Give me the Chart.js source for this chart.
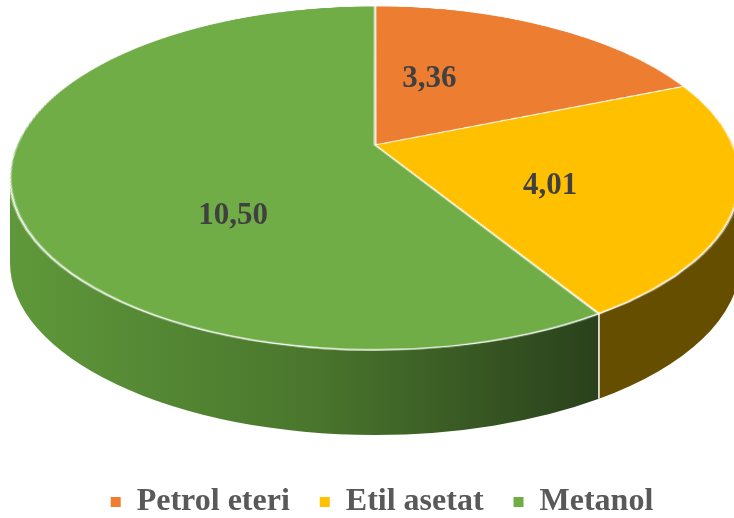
<!DOCTYPE html>
<html>
<head>
<meta charset="utf-8">
<script src="https://cdn.jsdelivr.net/npm/chart.js@4.4.0/dist/chart.umd.min.js"></script>
<style>
  html, body { margin: 0; padding: 0; background: #fff; }
</style>
</head>
<body>
<canvas id="pie" width="734" height="518"></canvas>
<script>
// slices (clockwise from 12 o'clock)
const labels = ["Petrol eteri", "Etil asetat", "Metanol"];
const values = [3.36, 4.01, 10.50];
const valueTexts = ["3,36", "4,01", "10,50"];
const colors = ["#ED7D31", "#FFC000", "#70AD47"];

// Excel-like 3D view: the round pie drawn by Chart.js is tilted with a
// small perspective (far side squeezed) and given a side wall
const CX = 375;        // screen x of the pie centre
const VERTEX_Y = 145;  // screen y where the slices meet
const TOP_Y = 6, BOT_Y = 350, HALF_W = 365, DEPTH = 85;

// projection y = (A + B v) / (1 + P v), x = CX + C u / (1 + P v)
const A = VERTEX_Y;
const P = (2 * A - BOT_Y - TOP_Y) / (BOT_Y - TOP_Y);
const B = BOT_Y * (1 + P) - A;
const C = HALF_W * Math.sqrt(1 - P * P);
const EY = (TOP_Y + BOT_Y) / 2, RY = (BOT_Y - TOP_Y) / 2;

function proj(u, v) {
  const d = 1 + P * v;
  return { x: CX + C * u / d, y: (A + B * v) / d };
}
function vOfY(y) {
  return (y - A) / (B - P * y);
}
// angle on the screen ellipse for a rim point of the disk
function rimPhi(t) {
  const q = proj(Math.cos(t), Math.sin(t));
  return Math.atan2((q.y - EY) / RY, (q.x - CX) / HALF_W);
}

const serif = "'Liberation Serif', 'Times New Roman', serif";

function sideFill(ctx, i) {
  if (i === 2) {
    const g = ctx.createLinearGradient(CX - HALF_W, 0, 600, 0);
    g.addColorStop(0, "#5F983A");
    g.addColorStop(0.5, "#4A772D");
    g.addColorStop(1, "#2A411C");
    return g;
  }
  if (i === 1) return "#664E00";
  return "#8A4A1C";
}

const pie3d = {
  id: "pie3d",
  afterDatasetsDraw(chart) {
    const ctx = chart.ctx;
    const arcs = chart.getDatasetMeta(0).data;
    const R = arcs[0].outerRadius, ox = arcs[0].x, oy = arcs[0].y;

    // grab the flat pie Chart.js just drew, then clear it
    const S = Math.ceil(2 * R + 6);
    const sx0 = Math.floor(ox - R - 3), sy0 = Math.floor(oy - R - 3);
    const off = document.createElement("canvas");
    off.width = S; off.height = S;
    off.getContext("2d").drawImage(chart.canvas, sx0, sy0, S, S, 0, 0, S, S);
    ctx.save();
    ctx.clearRect(sx0, sy0, S, S);

    // side walls: only the rim between the two silhouette points is seen
    const t0 = Math.asin(-P), t1 = Math.PI - t0;
    arcs.forEach((arc, i) => {
      const a = Math.max(arc.startAngle, t0);
      const b = Math.min(arc.endAngle, t1);
      if (b <= a) return;
      const pa = rimPhi(a), pb = rimPhi(b);
      ctx.beginPath();
      ctx.ellipse(CX, EY, HALF_W, RY, 0, pa, pb);
      ctx.ellipse(CX, EY + DEPTH, HALF_W, RY, 0, pb, pa, true);
      ctx.closePath();
      ctx.fillStyle = sideFill(ctx, i);
      ctx.fill();
    });
    arcs.forEach(arc => {
      const t = arc.startAngle;
      if (t > t0 && t < t1) {
        const q = proj(Math.cos(t), Math.sin(t));
        ctx.strokeStyle = "#fff";
        ctx.lineWidth = 1.5;
        ctx.beginPath();
        ctx.moveTo(q.x, q.y);
        ctx.lineTo(q.x, q.y + DEPTH);
        ctx.stroke();
      }
    });

    // top face, row by row with the perspective squeeze
    ctx.imageSmoothingEnabled = true;
    ctx.imageSmoothingQuality = "high";
    const cx0 = ox - sx0, cy0 = oy - sy0;
    for (let y = Math.floor(TOP_Y) - 1; y <= Math.ceil(BOT_Y) + 1; y++) {
      const v0 = Math.max(-1.01, Math.min(1.01, vOfY(y)));
      const v1 = Math.max(-1.01, Math.min(1.01, vOfY(y + 1)));
      if (v1 <= v0) continue;
      const s = C / (1 + P * vOfY(y + 0.5));
      ctx.drawImage(off, cx0 - R * 1.01, cy0 + v0 * R, R * 2.02, (v1 - v0) * R,
        CX - s * 1.01, y, s * 2.02, 1);
    }

    // value labels: halfway out along the on-screen middle of each slice
    ctx.font = "bold 31px " + serif;
    ctx.fillStyle = "#404040";
    ctx.textAlign = "center";
    ctx.textBaseline = "middle";
    const k = (VERTEX_Y - EY) / RY;
    arcs.forEach((arc, i) => {
      const qa = proj(Math.cos(arc.startAngle), Math.sin(arc.startAngle));
      const qb = proj(Math.cos(arc.endAngle), Math.sin(arc.endAngle));
      const aa = Math.atan2(qa.y - VERTEX_Y, qa.x - CX);
      let ab = Math.atan2(qb.y - VERTEX_Y, qb.x - CX);
      while (ab <= aa) ab += 2 * Math.PI;
      const m = (aa + ab) / 2;
      const dx = Math.cos(m), dy = Math.sin(m);
      const ex = dx / HALF_W, ey = dy / RY;
      const qa2 = ex * ex + ey * ey, qb2 = 2 * k * ey, qc2 = k * k - 1;
      const t = (-qb2 + Math.sqrt(qb2 * qb2 - 4 * qa2 * qc2)) / (2 * qa2);
      ctx.fillText(valueTexts[i], CX + dx * t * 0.5, VERTEX_Y + dy * t * 0.5);
    });
    ctx.restore();
  }
};

new Chart(document.getElementById("pie"), {
  type: "pie",
  data: {
    labels: labels,
    datasets: [{
      data: values,
      backgroundColor: colors,
      borderColor: "#ffffff",
      borderWidth: 1.2,
      hoverOffset: 0,
      clip: false
    }]
  },
  options: {
    responsive: false,
    animation: false,
    events: [],
    layout: { padding: { left: 30, bottom: -10 } },
    plugins: {
      tooltip: { enabled: false },
      legend: {
        position: "bottom",
        labels: {
          color: "#595959",
          font: { family: serif, size: 32, weight: "bold" },
          boxWidth: 10,
          boxHeight: 10,
          padding: 30,
          generateLabels: () => labels.map((text, i) => ({
            text: text,
            fillStyle: colors[i],
            strokeStyle: colors[i],
            lineWidth: 0,
            fontColor: "#595959",
            hidden: false,
            index: i
          }))
        }
      }
    }
  },
  plugins: [pie3d]
});
</script>
</body>
</html>
